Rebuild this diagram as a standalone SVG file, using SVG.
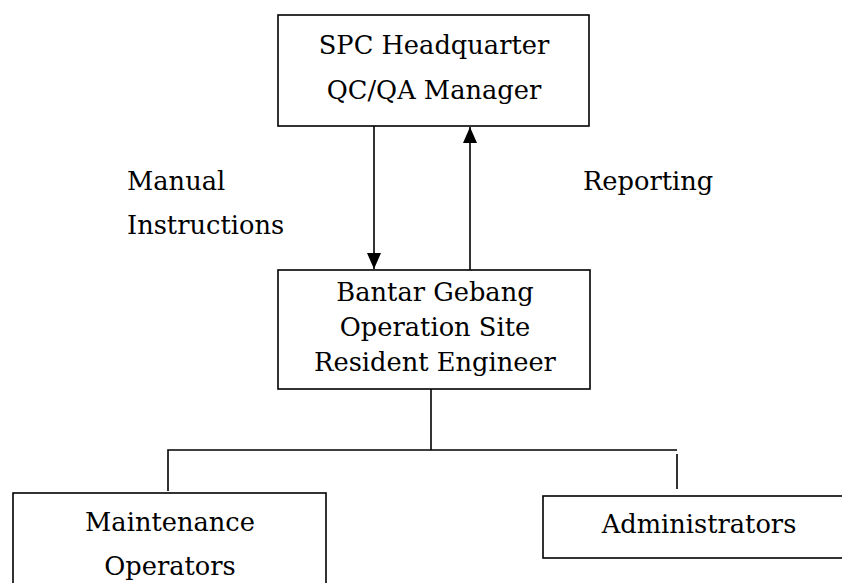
<svg xmlns="http://www.w3.org/2000/svg" width="842" height="583" viewBox="0 0 842 583">
<style>
.box{fill:#fff;stroke:#000;stroke-width:1.6}
.ln{fill:none;stroke:#000;stroke-width:1.6}
text{font-family:"DejaVu Serif","Liberation Serif",serif;font-size:25.7px;fill:#000}
.c{text-anchor:middle}
</style>
<defs>
<marker id="ah" viewBox="0 0 16 14" refX="16" refY="7" markerWidth="16" markerHeight="14" markerUnits="userSpaceOnUse" orient="auto">
<path d="M0,0 L16,7 L0,14 Z" fill="#000"/>
</marker>
</defs>
<rect width="842" height="583" fill="#fff"/>
<g id="connectors">
<line class="ln" x1="374" y1="126" x2="374" y2="269" marker-end="url(#ah)"/>
<line class="ln" x1="470" y1="270" x2="470" y2="127" marker-end="url(#ah)"/>
<line class="ln" x1="431" y1="389" x2="431" y2="450"/>
<polyline class="ln" points="168,491 168,450 677,450"/>
<line class="ln" x1="677" y1="454" x2="677" y2="489"/>
</g>
<g id="hq">
<rect class="box" x="278" y="15" width="311" height="111"/>
<text class="c" x="434" y="54">SPC Headquarter</text>
<text class="c" x="434" y="99">QC/QA Manager</text>
</g>
<g id="label-manual">
<text x="127" y="190">Manual</text>
<text x="127" y="234">Instructions</text>
</g>
<g id="label-reporting">
<text x="583" y="190">Reporting</text>
</g>
<g id="site">
<rect class="box" x="278" y="270" width="312" height="119"/>
<text class="c" x="435" y="301">Bantar Gebang</text>
<text class="c" x="435" y="336">Operation Site</text>
<text class="c" x="435" y="371">Resident Engineer</text>
</g>
<g id="maintenance">
<rect class="box" x="13" y="493" width="313" height="100"/>
<text class="c" x="170" y="531">Maintenance</text>
<text class="c" x="170" y="575">Operators</text>
</g>
<g id="administrators">
<rect class="box" x="543" y="496" width="310" height="62"/>
<text class="c" x="699" y="533">Administrators</text>
</g>
</svg>
